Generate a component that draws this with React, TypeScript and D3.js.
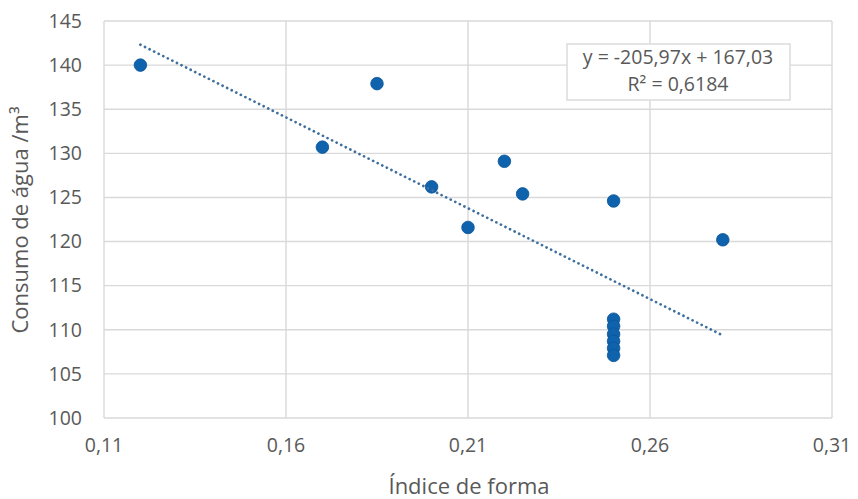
import React from "react";
import * as d3 from "d3";

const xValues = [0.12, 0.17, 0.185, 0.2, 0.21, 0.22, 0.225, 0.25, 0.28, 0.25, 0.25, 0.25, 0.25, 0.25, 0.25];
const yValues = [140, 130.7, 137.9, 126.2, 121.6, 129.1, 125.4, 124.6, 120.2, 111.2, 110.4, 109.5, 108.7, 107.9, 107.1];
const xTicks = [0.11, 0.16, 0.21, 0.26, 0.31];
const yTicks = [100, 105, 110, 115, 120, 125, 130, 135, 140, 145];
const trendSlope = -205.97;
const trendIntercept = 167.03;
const trendLabel = ["y = -205,97x + 167,03", "R² = 0,6184"];
const xTitle = "Índice de forma";
const yTitle = "Consumo de água /m³";

const W = 858;
const H = 499;
const FONT = "Open Sans, Noto Sans, sans-serif";
const TEXT = "#595959";
const GRID = "#d9d9d9";

export default function App() {
  const x = d3.scaleLinear().domain([0.11, 0.31]).range([104, 832]);
  const y = d3.scaleLinear().domain([100, 145]).range([418, 21]);
  const fmt = (v: number) => d3.format(".2f")(v).replace(".", ",");
  const xs = d3.extent(xValues) as [number, number];
  const trend = d3
    .line<number>()
    .x((d) => x(d))
    .y((d) => y(trendSlope * d + trendIntercept));
  const pts = xValues.map((v, i) => [v, yValues[i]]);
  return (
    <svg width={W} height={H} style={{ position: "absolute", left: 0, top: 0, background: "#fff" }}>
      <rect x={0} y={0} width={W} height={H} fill="#fff" />
      {yTicks.map((t) => (
        <line key={"gy" + t} x1={x(0.11)} x2={x(0.31)} y1={y(t)} y2={y(t)} stroke={GRID} strokeWidth={1.4} />
      ))}
      {xTicks.map((t) => (
        <line key={"gx" + t} x1={x(t)} x2={x(t)} y1={y(100)} y2={y(145)} stroke={GRID} strokeWidth={1.4} />
      ))}
      {yTicks.map((t) => (
        <text key={"ty" + t} x={82} y={y(t)} dy="0.35em" textAnchor="end" fontFamily={FONT} fontSize={19.5} fill={TEXT}>
          {t}
        </text>
      ))}
      {xTicks.map((t) => (
        <text key={"tx" + t} x={x(t)} y={445} dy="0.35em" textAnchor="middle" fontFamily={FONT} fontSize={19.5} fill={TEXT}>
          {fmt(t)}
        </text>
      ))}
      <text x={469} y={486} dy="0.35em" textAnchor="middle" fontFamily={FONT} fontSize={22} fill={TEXT}>
        {xTitle}
      </text>
      <text
        transform={`translate(20,${220}) rotate(-90)`}
        dy="0.35em"
        textAnchor="middle"
        fontFamily={FONT}
        fontSize={22}
        fill={TEXT}
      >
        {yTitle}
      </text>
      {pts.map((p, i) => (
        <circle key={"p" + i} cx={x(p[0])} cy={y(p[1])} r={6.3} fill="#0f62ac" stroke="#0b5699" strokeWidth={0.8} />
      ))}
      <path
        d={trend([xs[0], xs[1]]) || ""}
        fill="none"
        stroke="#3f6f9f"
        strokeWidth={2.7}
        strokeDasharray="0.1 5"
        strokeLinecap="round"
      />
      <rect x={567} y={44} width={223} height={56} fill="#fff" stroke={GRID} strokeWidth={1.4} />
      <text x={678} y={57} dy="0.35em" textAnchor="middle" fontFamily={FONT} fontSize={19.5} fill={TEXT}>
        {trendLabel[0]}
      </text>
      <text x={678} y={84} dy="0.35em" textAnchor="middle" fontFamily={FONT} fontSize={19.5} fill={TEXT}>
        {trendLabel[1]}
      </text>
    </svg>
  );
}
